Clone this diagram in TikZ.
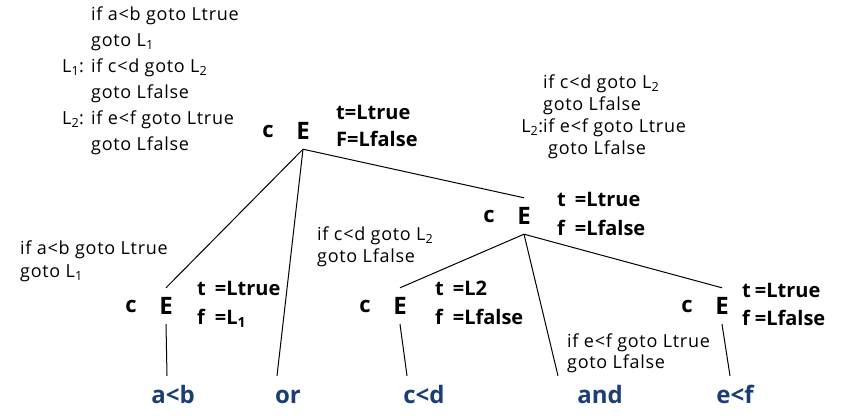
\documentclass[tikz,border=0pt]{standalone}
\usepackage{fontspec}
\setmainfont{Open Sans}
\usetikzlibrary{positioning}
\definecolor{leafblue}{RGB}{27,63,115}

\begin{document}
\begin{tikzpicture}[x=1pt, y=-1pt, node distance=35pt,
    enode/.style={font=\fontsize{24}{28}\selectfont\bfseries, inner sep=0pt, minimum height=36pt},
    cnode/.style={font=\fontsize{22}{26}\selectfont\bfseries, inner sep=0pt},
    attr/.style={font=\fontsize{20}{#1}\selectfont\bfseries, inner sep=0pt, anchor=base west},
    attr/.default=29,
    code/.style={font=\fontsize{18}{#1}\selectfont\addfontfeature{LetterSpace=4}, inner sep=0pt, anchor=base west},
    code/.default=22,
    leaf/.style={font=\fontsize{24}{28}\selectfont\bfseries, text=leafblue, inner xsep=0pt, inner ysep=12pt, text height=15pt, text depth=0pt, anchor=base},
    edge/.style={line width=1pt}]
    \useasboundingbox (0,0) rectangle (856,415);

    % Root
    \node[enode] (e_root) at (303,131) {E};
    \node[cnode, left of=e_root] (c_root) {c};
    \node[attr=27] (a_root) at (336,119) {\begin{tabular}[t]{@{}l@{}}t=Ltrue\\F=Lfalse\end{tabular}};
    \node[code=26] (code_root) at (91,20) {\begin{tabular}[t]{@{}l@{}}
        if a<b goto Ltrue\\
        goto L\textsubscript{1}\\
        \llap{L\textsubscript{1}: }if c<d goto L\textsubscript{2}\\
        goto Lfalse\\
        \llap{L\textsubscript{2}: }if e<f goto Ltrue\\
        goto Lfalse
    \end{tabular}};

    % a<b
    \node[enode] (e_ab) at (166,306) {E};
    \node[cnode, left of=e_ab] (c_ab) {c};
    \node[attr] (a_ab) at (197,295) {\begin{tabular}[t]{@{}l@{\hspace{9pt}}l@{}}t&=Ltrue\\f&=L\textsubscript{1}\end{tabular}};
    \node[code=23] (code_ab) at (20,254) {\begin{tabular}[t]{@{}l@{}}if a<b goto Ltrue\\goto L\textsubscript{1}\end{tabular}};

    % and
    \node[enode] (e_and) at (524,216) {E};
    \node[cnode, left of=e_and] (c_and) {c};
    \node[attr] (a_and) at (557,206) {\begin{tabular}[t]{@{}l@{\hspace{9pt}}l@{}}t&=Ltrue\\f&=Lfalse\end{tabular}};
    \node[code] (code_and) at (543,88) {\begin{tabular}[t]{@{}l@{}}
        if c<d goto L\textsubscript{2}\\
        goto Lfalse\\
        \llap{L\textsubscript{2}:}if e<f goto Ltrue\\
        \hspace{5pt}goto Lfalse
    \end{tabular}};

    % c<d
    \node[enode] (e_cd) at (400,306) {E};
    \node[cnode, left of=e_cd] (c_cd) {c};
    \node[attr] (a_cd) at (435,295) {\begin{tabular}[t]{@{}l@{\hspace{9pt}}l@{}}t&=L2\\f&=Lfalse\end{tabular}};
    \node[code] (code_cd) at (317,240) {\begin{tabular}[t]{@{}l@{}}if c<d goto L\textsubscript{2}\\goto Lfalse\end{tabular}};

    % e<f
    \node[enode] (e_ef) at (722,306) {E};
    \node[cnode, left of=e_ef] (c_ef) {c};
    \node[attr=28] (a_ef) at (742,297) {\begin{tabular}[t]{@{}l@{\hspace{4pt}}l@{}}t&=Ltrue\\f&=Lfalse\end{tabular}};
    \node[code=21] (code_ef) at (567,347) {\begin{tabular}[t]{@{}l@{}}if e<f goto Ltrue\\goto Lfalse\end{tabular}};

    % Leaves
    \node[leaf] (leaf_ab) at (173,403) {a<b};
    \node[leaf] (leaf_or) at (288,403) {or};
    \node[leaf] (leaf_cd) at (424,403) {c<d};
    \node[leaf] (leaf_and) at (600,403) {and};
    \node[leaf] (leaf_ef) at (735,403) {e<f};

    % Edges
    \draw[edge] (e_root.south) -- (e_ab.north);
    \draw[edge] (e_root.south) -- ([xshift=-11pt]leaf_or.north);
    \draw[edge] (e_root.south) -- (e_and.north);
    \draw[edge] (e_ab.south) -- ([xshift=-6pt]leaf_ab.north);
    \draw[edge] (e_and.south) -- (e_cd.north);
    \draw[edge] (e_and.south) -- ([xshift=-42pt]leaf_and.north);
    \draw[edge] (e_and.south) -- (e_ef.north);
    \draw[edge] (e_cd.south) -- ([xshift=-17pt]leaf_cd.north);
    \draw[edge] (e_ef.south) -- ([xshift=-5pt]leaf_ef.north);

\end{tikzpicture}
\end{document}
